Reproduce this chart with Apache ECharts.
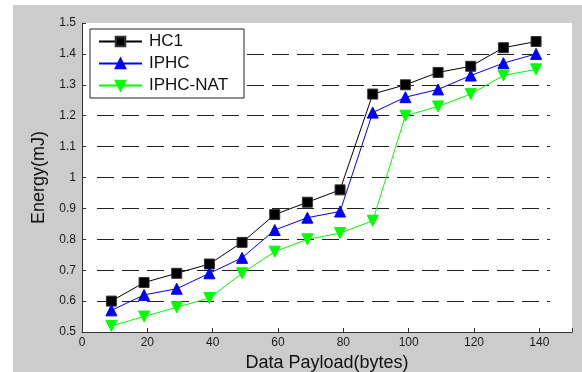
<!DOCTYPE html>
<html>
<head>
<meta charset="utf-8">
<script src="https://cdn.jsdelivr.net/npm/echarts@6/dist/echarts.min.js"></script>
<style>
  html, body { margin: 0; padding: 0; background: #fff; }
  #chart { width: 582px; height: 372px; }
</style>
</head>
<body>
<div id="chart"></div>
<script>
const payload = [9, 19, 29, 39, 49, 59, 69, 79, 89, 99, 109, 119, 129, 139];
const hc1 = [0.60, 0.66, 0.69, 0.72, 0.79, 0.88, 0.92, 0.96, 1.27, 1.30, 1.34, 1.36, 1.42, 1.44];
const iphc = [0.57, 0.62, 0.64, 0.69, 0.74, 0.83, 0.87, 0.89, 1.21, 1.26, 1.285, 1.33, 1.37, 1.40];
const iphcNat = [0.52, 0.55, 0.58, 0.61, 0.69, 0.76, 0.80, 0.82, 0.86, 1.20, 1.23, 1.27, 1.33, 1.35];

const font = "'Liberation Sans', Arial, sans-serif";
const pair = (ys) => ys.map((y, i) => [payload[i], y]);

const chart = echarts.init(document.getElementById('chart'));

const makeSeries = (name, data, color, symbol, size, rotate) => ({
  name: name,
  type: 'line',
  xAxisIndex: 0,
  yAxisIndex: 0,
  data: pair(data),
  symbol: symbol,
  symbolSize: size,
  symbolRotate: rotate,
  showAllSymbol: true,
  lineStyle: { color: color, width: 1 },
  itemStyle: { color: color, borderColor: color === '#000000' ? '#333' : color, borderWidth: 1 },
  emphasis: { disabled: true },
  z: 3
});

const option = {
  backgroundColor: '#ffffff',
  animation: false,
  textStyle: { fontFamily: font },
  graphic: [{
    type: 'rect',
    left: 13, top: 5,
    shape: { width: 569, height: 367 },
    style: { fill: '#cccccc' },
    z: -10
  }],
  grid: [
    {
      left: 82, top: 23, right: 10, bottom: 40, outerBoundsMode: 'none',
      show: true, backgroundColor: '#ffffff', borderWidth: 0
    },
    // grid used only for the dashed reference lines, which stop short of the plot edges
    { left: 97, top: 23, right: 32, bottom: 40, outerBoundsMode: 'none' }
  ],
  xAxis: [
    {
      type: 'value', gridIndex: 0, min: 0, max: 150, interval: 20,
      name: 'Data Payload(bytes)', nameLocation: 'middle', nameGap: 17,
      nameTextStyle: { fontSize: 18, color: '#111', fontFamily: font },
      axisLine: { show: true, lineStyle: { color: '#333', width: 1 } },
      axisTick: { show: true, inside: true, length: 4, lineStyle: { color: '#333' } },
      axisLabel: {
        fontSize: 12, color: '#1a1a1a', margin: 5, fontFamily: font,
        formatter: (v) => (v > 140 ? '' : v)
      },
      splitLine: { show: false }
    },
    { type: 'value', gridIndex: 1, min: 0, max: 1, show: false }
  ],
  yAxis: [
    {
      type: 'value', gridIndex: 0, min: 0.5, max: 1.5, interval: 0.1,
      name: 'Energy(mJ)', nameLocation: 'middle', nameGap: 32, nameRotate: 90,
      nameTextStyle: { fontSize: 18, color: '#111', fontFamily: font },
      axisLine: { show: true, lineStyle: { color: '#333', width: 1 } },
      axisTick: { show: true, inside: true, length: 4, lineStyle: { color: '#333' } },
      axisLabel: { fontSize: 12, color: '#1a1a1a', margin: 6, fontFamily: font },
      splitLine: { show: false }
    },
    {
      type: 'value', gridIndex: 1, min: 0.5, max: 1.5, interval: 0.1,
      axisLine: { show: false }, axisTick: { show: false }, axisLabel: { show: false },
      splitLine: {
        show: true, showMinLine: false, showMaxLine: false,
        lineStyle: { color: '#222', width: 1, type: [17, 8] }
      }
    }
  ],
  legend: {
    orient: 'vertical',
    left: 90, top: 29,
    padding: [4, 16, 4, 8],
    itemGap: 5,
    itemWidth: 43, itemHeight: 12,
    backgroundColor: '#ffffff',
    borderColor: '#222', borderWidth: 1,
    textStyle: { fontSize: 17, color: '#111', fontFamily: font, padding: [0, 0, 0, 2] },
    data: ['HC1', 'IPHC', 'IPHC-NAT']
  },
  series: [
    makeSeries('HC1', hc1, '#000000', 'rect', 10, 0),
    makeSeries('IPHC', iphc, '#0000ff', 'triangle', 11, 0),
    makeSeries('IPHC-NAT', iphcNat, '#00ff00', 'triangle', 11, 180)
  ]
};

chart.setOption(option);
</script>
</body>
</html>
